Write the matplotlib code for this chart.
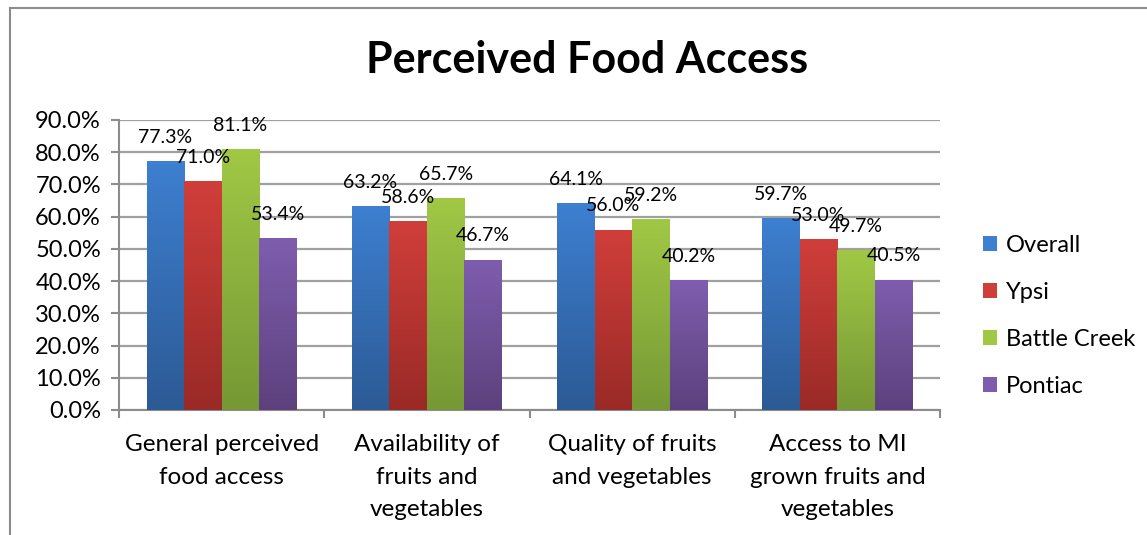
import matplotlib.pyplot as plt
import numpy as np
from matplotlib.colors import LinearSegmentedColormap
from matplotlib.lines import Line2D
from matplotlib.patches import Patch

plt.rcParams['font.family'] = ['Lato', 'DejaVu Sans']

categories = ['General perceived\nfood access', 'Availability of\nfruits and\nvegetables',
              'Quality of fruits\nand vegetables', 'Access to MI\ngrown fruits and\nvegetables']
series = ['Overall', 'Ypsi', 'Battle Creek', 'Pontiac']
overall = [77.3, 63.2, 64.1, 59.7]
ypsi = [71.0, 58.6, 56.0, 53.0]
battle_creek = [81.1, 65.7, 59.2, 49.7]
pontiac = [53.4, 46.7, 40.2, 40.5]
y_ticks = [0, 10, 20, 30, 40, 50, 60, 70, 80, 90]

# (top colour, bottom colour) for the gradient fill
colors = [('#3d7fd0', '#2c5a95'), ('#d03e3a', '#9a2a27'),
          ('#a0c845', '#769835'), ('#7e5dae', '#5d417d')]

fig = plt.figure(figsize=(11.47, 5.35), dpi=100)
W, H = 1147, 535
ax = fig.add_axes([119 / W, 1 - 410 / H, (940 - 119) / W, (410 - 120) / H])

x = np.arange(len(categories))
width = 0.183
values = [overall, ypsi, battle_creek, pontiac]

for i, (vals, (c_top, c_bot)) in enumerate(zip(values, colors)):
    offs = (i - 1.5) * width
    cmap = LinearSegmentedColormap.from_list(f'g{i}', [c_bot, c_top])
    bars = ax.bar(x + offs, vals, width, color=c_top, edgecolor='none', zorder=3)
    for b, v in zip(bars, vals):
        x0, w = b.get_x(), b.get_width()
        grad = np.linspace(0, 1, 64).reshape(-1, 1)
        im = ax.imshow(grad, cmap=cmap, origin='lower', aspect='auto',
                       extent=[x0, x0 + w, 0, v], zorder=3.5)
        im.set_clip_path(b)
        # labels sit above the bar, overlapping like the Excel original
        ax.annotate(f'{v:.1f}%', (x0 + w / 2, v), xytext=(0, 17), textcoords='offset points',
                    ha='center', va='center', fontsize=14, zorder=5)

ax.set_xlim(-0.5, 3.5)
ax.set_ylim(0, 90)
ax.set_yticks(y_ticks)
ax.set_yticklabels([f'{t:.1f}%' for t in y_ticks], fontsize=17)
ax.yaxis.grid(True, color='#a0a0a0', linewidth=1.6, zorder=0)
ax.set_axisbelow(True)

ax.set_xticks(np.arange(-0.5, 4, 1))
ax.set_xticklabels([])
ax.set_xticks(x, minor=True)
ax.set_xticklabels(categories, minor=True, fontsize=17.5, linespacing=1.7, va='top')
ax.tick_params(axis='x', which='minor', length=0, pad=17)
ax.tick_params(axis='x', which='major', length=6, width=1.5, color='#8c8c8c', direction='out')
ax.tick_params(axis='y', length=6, width=1.5, color='#8c8c8c', pad=7)

for s in ['top', 'right']:
    ax.spines[s].set_visible(False)
for s in ['left', 'bottom']:
    ax.spines[s].set_color('#8c8c8c')
    ax.spines[s].set_linewidth(1.5)

fig.text(587 / W, 1 - 60 / H, 'Perceived Food Access', ha='center', va='center',
         fontsize=31, fontweight='bold')

handles = [Patch(facecolor=c_top, edgecolor='none') for c_top, c_bot in colors]
fig.legend(handles, series, loc='center left', bbox_to_anchor=(962 / W, 1 - 316 / H),
           frameon=False, fontsize=17, handlelength=0.6, handleheight=0.6,
           handletextpad=0.35, labelspacing=1.1)

# chart border (only left and top visible in the crop)
fig.add_artist(Line2D([10 / W, 10 / W], [0, 1 - 8 / H], color='#8c8c8c', lw=1.5,
                      transform=fig.transFigure))
fig.add_artist(Line2D([10 / W, 1], [1 - 8 / H, 1 - 8 / H], color='#8c8c8c', lw=1.5,
                      transform=fig.transFigure))

fig.savefig('out.png', dpi=100)
